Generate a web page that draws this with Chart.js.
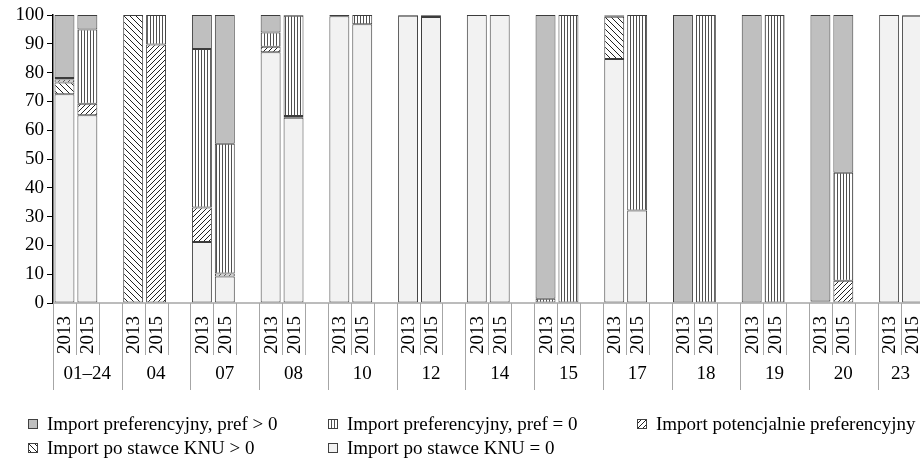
<!DOCTYPE html>
<html>
<head>
<meta charset="utf-8">
<script src="https://cdn.jsdelivr.net/npm/chart.js@4.4.0/dist/chart.umd.min.js"></script>
<style>
  html,body{margin:0;padding:0;background:#fff;}
  #wrap{position:relative;width:920px;height:459px;overflow:hidden;background:#fff;}
  #c{position:absolute;left:0;top:0;}
  .lg{position:absolute;font-family:'Liberation Serif','Times New Roman',serif;font-size:19px;line-height:20px;color:#000;white-space:nowrap;}
  .sw{position:absolute;}
</style>
</head>
<body>
<div id="wrap">
  <canvas id="c" width="925" height="459"></canvas>
  <div id="legend"></div>
</div>
<script>
// ---- data ----
const groups = ['01–24','04','07','08','10','12','14','15','17','18','19','20','23'];
const years = ['2013','2015'];
// values per group: [2013, 2015]
const knu0   = [72.5,65.2, 0,0, 21.2,9.2, 87.1,64.3, 99.6,96.8, 99.7,99.3, 100,100, 0,0, 84.7,32.1, 0,0, 0,0, 0.3,0, 100,99.7];
const knuPos = [4.1,0, 100,0, 0,0, 0,0, 0,0, 0,0, 0,0, 0,0, 14.7,0, 0,0, 0,0, 0,0, 0,0];
const potenc = [1.0,4.0, 0,89.8, 12.0,1.0, 1.9,0.6, 0,0, 0.3,0.4, 0,0, 0,0, 0,0, 0,0, 0,0, 0.2,7.7, 0,0];
const pref0  = [0.5,25.8, 0,10.2, 55.0,45.1, 4.9,34.8, 0.4,3.2, 0,0.3, 0,0, 1.5,100, 0.4,67.9, 0,100, 0,100, 0,37.5, 0,0];
const prefPos= [21.9,5.0, 0,0, 11.8,44.7, 6.1,0.3, 0,0, 0,0, 0,0, 98.5,0, 0.2,0, 100,0, 100,0, 99.5,54.8, 0,0.3];
const yTicks = [0,10,20,30,40,50,60,70,80,90,100];
const seriesNames = ['Import po stawce KNU = 0','Import po stawce KNU > 0','Import potencjalnie preferencyjny','Import preferencyjny, pref = 0','Import preferencyjny, pref > 0'];

// ---- build slot layout: each group has 2013, 2015 and a blank spacer (except last) ----
const slotLabels = [];
const slotGroup = [];
groups.forEach((g, gi) => {
  years.forEach(y => { slotLabels.push(y); slotGroup.push(gi); });
  if (gi < groups.length - 1) { slotLabels.push(''); slotGroup.push(gi); }
});
function toSlots(arr){
  const out = [];
  groups.forEach((g, gi) => {
    years.forEach((y, yi) => { const v = arr[gi*2+yi]; out.push(v === 0 ? null : v); });
    if (gi < groups.length - 1) out.push(null);
  });
  return out;
}

// ---- patterns ----
function makePattern(w, h, draw){
  const c = document.createElement('canvas'); c.width = w; c.height = h;
  const x = c.getContext('2d');
  x.fillStyle = '#fff'; x.fillRect(0,0,w,h);
  draw(x, w, h);
  return c;
}
const ctxMain = document.getElementById('c').getContext('2d');
const tileStripes = makePattern(3,3,(x)=>{ x.fillStyle='#505050'; x.fillRect(0,0,1,3); });
const tileBack = makePattern(6,6,(x,w,h)=>{ x.strokeStyle='#222'; x.lineWidth=1;
  for (const k of [-6,0,6]) { x.beginPath(); x.moveTo(k,0); x.lineTo(k+6,6); x.stroke(); } });
const tileFwd = makePattern(5,5,(x,w,h)=>{ x.strokeStyle='#222'; x.lineWidth=1;
  for (const k of [-5,0,5]) { x.beginPath(); x.moveTo(k,5); x.lineTo(k+5,0); x.stroke(); } });
const fills = [
  '#F2F2F2',
  ctxMain.createPattern(tileBack,'repeat'),
  ctxMain.createPattern(tileFwd,'repeat'),
  ctxMain.createPattern(tileStripes,'repeat'),
  '#BFBFBF'
];
const tiles = [null, tileBack, tileFwd, tileStripes, null];
const seriesData = [knu0, knuPos, potenc, pref0, prefPos];

const datasets = seriesNames.map((n,i)=>({
  label: n,
  data: toSlots(seriesData[i]),
  backgroundColor: fills[i],
  borderColor: '#3c3c3c',
  borderWidth: 1,
  borderSkipped: false,
  barPercentage: 0.87,
  categoryPercentage: 1.0,
  stack: 's'
}));

const FONT = "'Liberation Serif','Times New Roman',serif";

const xAxisPlugin = {
  id: 'xAxisDraw',
  afterDraw(chart){
    const ctx = chart.ctx;
    const xs = chart.scales.x;
    const area = chart.chartArea;
    const n = slotLabels.length;
    const w = (area.right - area.left) / n;
    const b = area.bottom;
    ctx.save();
    // slot boundary lines
    ctx.strokeStyle = '#a6a6a6';
    ctx.lineWidth = 1;
    for (let i = 0; i <= n; i++) {
      const x = Math.round(area.left + i*w) + 0.5;
      const isGroup = (i === 0) || (i === n) || (slotGroup[i] !== slotGroup[i-1]);
      ctx.beginPath(); ctx.moveTo(x, b); ctx.lineTo(x, b + (isGroup ? 87 : 52)); ctx.stroke();
    }
    // axis line
    ctx.lineWidth = 1.5;
    ctx.beginPath(); ctx.moveTo(area.left, b); ctx.lineTo(area.right, b); ctx.stroke();
    // year labels
    ctx.fillStyle = '#000';
    ctx.font = '19px ' + FONT;
    for (let i = 0; i < n; i++) {
      if (!slotLabels[i]) continue;
      const cx = xs.getPixelForValue(i);
      ctx.save();
      ctx.translate(cx + 1, b + 13);
      ctx.rotate(-Math.PI/2);
      ctx.textAlign = 'right';
      ctx.textBaseline = 'middle';
      ctx.fillText(slotLabels[i], 0, 0);
      ctx.restore();
    }
    // group labels
    ctx.textAlign = 'center';
    ctx.textBaseline = 'middle';
    groups.forEach((g, gi) => {
      let first = -1, last = -1;
      slotGroup.forEach((s, i) => { if (s === gi) { if (first < 0) first = i; last = i; } });
      const cx = area.left + (first + last + 1) / 2 * w;
      ctx.fillText(g, cx, b + 71);
    });
    ctx.restore();
  }
};

new Chart(document.getElementById('c'), {
  type: 'bar',
  data: { labels: slotLabels, datasets },
  options: {
    responsive: false,
    animation: false,
    layout: { padding: { top: 15, right: 1.5, left: 0, bottom: 0 } },
    plugins: { legend: { display: false }, tooltip: { enabled: false } },
    scales: {
      x: {
        stacked: true,
        grid: { display: false },
        border: { display: false },
        ticks: { display: false },
        afterFit(s){ s.height = 156; }
      },
      y: {
        stacked: true,
        min: 0, max: 100,
        afterBuildTicks(s){ s.ticks = yTicks.map(v => ({ value: v })); },
        grid: { display: true, drawOnChartArea: false, tickLength: 6, color: '#000', lineWidth: 1 },
        border: { display: true, color: '#000', width: 1.5 },
        ticks: { font: { family: FONT, size: 19 }, color: '#000', padding: 3 },
        afterFit(s){ s.width = 53; }
      }
    }
  },
  plugins: [xAxisPlugin]
});

// ---- HTML legend ----
const legendOrder = [4, 3, 2, 1, 0];
const legendPos = [[28,424],[328,424],[637,424],[28,448],[328,448]];
const lg = document.getElementById('legend');
legendOrder.forEach((si, k) => {
  const [lx, ly] = legendPos[k];
  const sw = document.createElement('canvas');
  sw.width = 10; sw.height = 10; sw.className = 'sw';
  sw.style.left = lx + 'px'; sw.style.top = (ly - 5) + 'px';
  const sx = sw.getContext('2d');
  sx.fillStyle = tiles[si] ? sx.createPattern(tiles[si], 'repeat') : fills[si];
  sx.fillRect(0,0,10,10);
  sx.strokeStyle = '#404040'; sx.lineWidth = 1; sx.strokeRect(0.5,0.5,9,9);
  lg.appendChild(sw);
  const t = document.createElement('div');
  t.className = 'lg';
  t.textContent = seriesNames[si];
  t.style.left = (lx + 19) + 'px'; t.style.top = (ly - 10) + 'px';
  lg.appendChild(t);
});
</script>
</body>
</html>
